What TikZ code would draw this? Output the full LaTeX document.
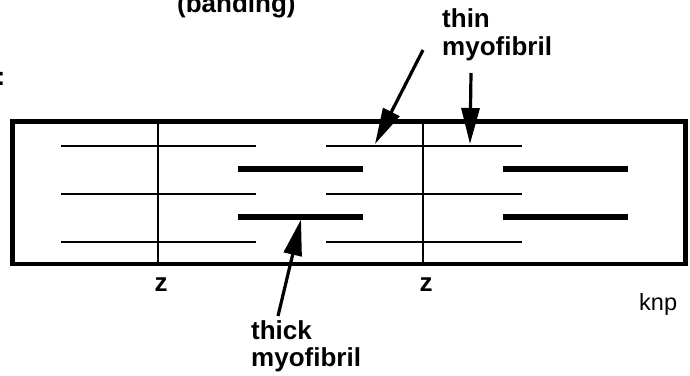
\documentclass[tikz,border=0pt]{standalone}
\usepackage{fontspec}
\setmainfont{Liberation Sans}
\usetikzlibrary{arrows.meta}
\begin{document}
\begin{tikzpicture}[x=1pt,y=-1pt,
  lbl/.style={inner sep=0pt,font=\bfseries\fontsize{26}{27.5}\selectfont,align=left},
  zlbl/.style={inner sep=0pt,font=\bfseries\fontsize{26}{28}\selectfont,anchor=base},
  frame/.style={line width=4.8pt},
  zline/.style={line width=2.6pt},
  thinfil/.style={line width=2.8pt},
  thickfil/.style={line width=5.5pt},
  pointer/.style={line width=3.2pt,-{Triangle[length=36pt,width=18pt]}}]
\useasboundingbox (0,0) rectangle (690,375);

% sarcomere outline
\draw[frame] (12.5,121.7) rectangle (685.5,264);

% Z discs
\draw[zline] (158,121.7) -- (158,264);
\draw[zline] (423,121.7) -- (423,264);

% thin filaments
\foreach \y in {146,194,242}{
  \draw[thinfil] (61,\y) -- (256,\y);
  \draw[thinfil] (326,\y) -- (522,\y);
}
% thick filaments
\foreach \y in {169,217}{
  \draw[thickfil] (238,\y) -- (363,\y);
  \draw[thickfil] (503,\y) -- (628,\y);
}

% labels (multi-line nodes are anchored on their last baseline)
\node[lbl,anchor=base west] (band) at (177,12.5) {(banding)};
\node[lbl,anchor=base west] (colon) at (-3.5,85) {:};
\node[lbl,anchor=base west] (thin) at (442,55) {thin\\myofibril};
\node[lbl,anchor=base west] (thick) at (251,366.5) {thick\\myofibril};
\node[zlbl] (z1) at (161,291.7) {z};
\node[zlbl] (z2) at (426,291.7) {z};
\node[inner sep=0pt,anchor=base west,font=\fontsize{23.5}{25}\selectfont] (knp) at (639,310) {knp};

% pointer ends
\coordinate (thinA) at (423,50);
\coordinate (thinAtip) at (375,144);
\coordinate (thinB) at (471,73);
\coordinate (thinBtip) at (470,144);
\coordinate (thickA) at (278,316);
\coordinate (thickAtip) at (301,219.5);

\draw[pointer] (thinA) -- (thinAtip);
\draw[pointer] (thinB) -- (thinBtip);
\draw[pointer] (thickA) -- (thickAtip);
\end{tikzpicture}
\end{document}
